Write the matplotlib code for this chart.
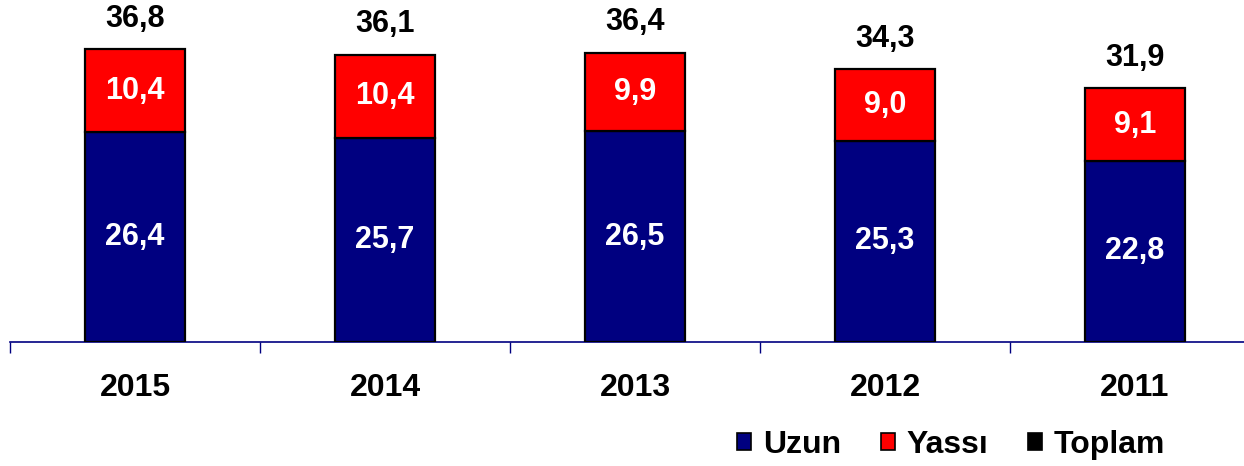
import matplotlib
matplotlib.use("Agg")
from matplotlib import pyplot as plt
from matplotlib.patches import Patch

years = ["2015", "2014", "2013", "2012", "2011"]
uzun = [26.4, 25.7, 26.5, 25.3, 22.8]
yassi = [10.4, 10.4, 9.9, 9.0, 9.1]
toplam = [36.8, 36.1, 36.4, 34.3, 31.9]

plt.rcParams['font.family'] = ['Liberation Sans', 'DejaVu Sans']
plt.rcParams['font.weight'] = 'bold'

fig = plt.figure(figsize=(12.44, 4.66), dpi=100)
ax = fig.add_axes([10 / 1244, 124 / 466, 1250 / 1244, 318 / 466])

x = list(range(len(years)))
ax.bar(x, uzun, width=0.4, color='#000080', edgecolor='black', linewidth=1.6, zorder=3)
ax.bar(x, yassi, width=0.4, bottom=uzun, color='#ff0000', edgecolor='black', linewidth=1.6, zorder=3)

def fmt(v):
    return f"{v:.1f}".replace('.', ',')

for i in x:
    ax.text(i, uzun[i] / 2, fmt(uzun[i]), ha='center', va='center', color='white',
            fontsize=22, fontweight='bold', zorder=4)
    ax.text(i, uzun[i] + yassi[i] / 2, fmt(yassi[i]), ha='center', va='center', color='white',
            fontsize=22, fontweight='bold', zorder=4)
    ax.annotate(fmt(toplam[i]), (i, toplam[i]), xytext=(0, 22), textcoords='offset points',
                ha='center', va='center', color='black', fontsize=22, fontweight='bold')

ax.set_xlim(-0.5, 4.5)
ax.set_ylim(0, 40)
ax.set_xticks([k - 0.5 for k in range(6)], minor=False)
ax.set_xticklabels([])
ax.tick_params(axis='x', which='major', direction='out', length=8, width=1, color='#000080')
ax.set_xticks(x, minor=True)
ax.set_xticklabels(years, minor=True, fontsize=23, fontweight='bold')
ax.tick_params(axis='x', which='minor', length=0, pad=22)
ax.set_yticks([])
for s in ['left', 'right', 'top']:
    ax.spines[s].set_visible(False)
ax.spines['bottom'].set_color('#000080')
ax.spines['bottom'].set_linewidth(1.2)

handles = [Patch(facecolor='#000080', edgecolor='black', linewidth=1.2),
           Patch(facecolor='#ff0000', edgecolor='black', linewidth=1.2),
           Patch(facecolor='black', edgecolor='black', linewidth=1.2)]
fig.legend(handles, ['Uzun', 'Yassı', 'Toplam'], loc='center', bbox_to_anchor=(951 / 1244, 1 - 445 / 466),
           ncol=3, frameon=False, prop={'size': 23, 'weight': 'bold'},
           handlelength=0.45, handleheight=0.45, handletextpad=0.35, columnspacing=1.25, borderpad=0)

fig.savefig('out.png', dpi=100)
